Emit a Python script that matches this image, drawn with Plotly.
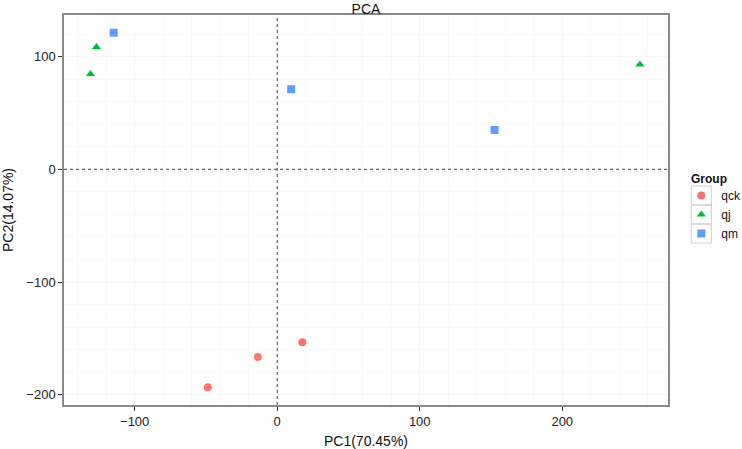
import plotly.graph_objects as go

groups = ["qck", "qj", "qm"]
colors = ["#F8766D", "#00BA38", "#619CFF"]
symbols = ["circle", "triangle-up", "square"]

qck_pc1 = [-48.7, -13.6, 17.6]
qck_pc2 = [-193.4, -166.5, -153.5]
qj_pc1 = [-131.0, -126.8, 254.5]
qj_pc2 = [84.5, 108.5, 93.0]
qm_pc1 = [-114.7, 9.8, 152.5]
qm_pc2 = [121.2, 71.0, 34.9]

xs = [qck_pc1, qj_pc1, qm_pc1]
ys = [qck_pc2, qj_pc2, qm_pc2]

W, H = 742, 449
L, R, T, B = 64.3, 742 - 667.7, 15, 449 - 405
PW, PH = W - L - R, H - T - B


def px(xpix):
    return (xpix - L) / PW


def py(ypix):
    return 1 - (ypix - T) / PH


fig = go.Figure()
for g, c, s, x, y in zip(groups, colors, symbols, xs, ys):
    fig.add_trace(go.Scatter(
        x=x, y=y, mode="markers", name=g,
        marker=dict(color=c, symbol=s, size=8, line=dict(width=0)),
    ))

fig.add_hline(y=0, line=dict(color="#444444", width=1, dash="3px,3px"))
fig.add_vline(x=0, line=dict(color="#444444", width=1, dash="3px,3px"))

# legend key boxes (ggplot style)
KEY_TOP, KEY_H = 186, 19
for i in range(3):
    fig.add_shape(type="rect", xref="paper", yref="paper",
                  x0=px(691), x1=px(711), y0=py(KEY_TOP + KEY_H * (i + 1)), y1=py(KEY_TOP + KEY_H * i),
                  line=dict(color="#cfcfcf", width=1), fillcolor="rgba(0,0,0,0)", layer="above")

axis_common = dict(
    showline=True, linecolor="#8a8a8a", linewidth=1.5, mirror=True,
    ticks="outside", ticklen=4, tickcolor="#333333",
    showgrid=True, gridcolor="#f6f6f6", gridwidth=1,
    zeroline=False, automargin=False,
    tickfont=dict(family="Liberation Sans, Arial", size=13, color="#222222"),
    minor=dict(showgrid=True, gridcolor="#f9f9f9", gridwidth=1),
)

fig.update_layout(
    width=W, height=H,
    paper_bgcolor="white", plot_bgcolor="white",
    margin=dict(l=L, r=R, t=T, b=B, autoexpand=False),
    font=dict(family="Liberation Sans, Arial", color="#111111"),
    title=dict(text="PCA", x=(366 / W), xanchor="center", y=1 - 9 / H, yanchor="middle",
               font=dict(size=14, color="#111111")),
    xaxis=dict(axis_common, range=[-149.6, 274.2], tickvals=[-100, 0, 100, 200],
               ticktext=["\u2212100", "0", "100", "200"],
               title=dict(text="PC1(70.45%)", font=dict(size=14), standoff=12)),
    yaxis=dict(axis_common, range=[-209.1, 136.9], tickvals=[-200, -100, 0, 100],
               ticktext=["\u2212200", "\u2212100", "0", "100"],
               title=dict(text="PC2(14.07%)", font=dict(size=14), standoff=10)),
    legend=dict(
        x=px(681), y=py(181), xanchor="left", yanchor="top",
        font=dict(size=12), bgcolor="rgba(0,0,0,0)", tracegroupgap=0,
    ),
    annotations=[dict(text="<b>Group</b>", xref="paper", yref="paper", x=px(689), y=py(179),
                      xanchor="left", yanchor="middle", showarrow=False,
                      font=dict(size=12, color="#111111"))],
)

fig.write_html("out.html", config={"displayModeBar": False},
               post_script="document.body.style.margin='0px';document.body.style.overflow='hidden';")
